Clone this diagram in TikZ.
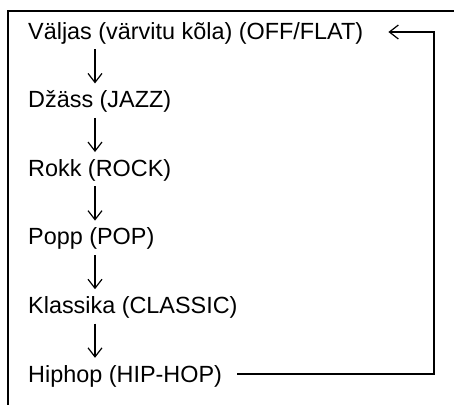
\documentclass[tikz,border=0pt]{standalone}
\usepackage{fontspec}
\setmainfont{Liberation Sans}
\usetikzlibrary{arrows.meta}
\tikzset{
  genre/.style={anchor=base west, inner sep=0pt, text height=16pt, text depth=5pt, font=\fontsize{23.4}{27}\selectfont},
  nextarrow/.style={-{Straight Barb[length=9pt,width=14pt]}, line width=1.2pt, shorten <=5pt, shorten >=8pt},
  frameline/.style={line width=2pt}
}
\begin{document}
\begin{tikzpicture}[x=1pt, y=-1pt]
            \useasboundingbox (0,0) rectangle (454,405);
            % Frame
            \draw[frameline] (454,11) -- (8,11) -- (8,405);
            % Genres
            \node[genre] (off) at (28,39) {Väljas (värvitu kõla) (OFF/FLAT)};
            \node[genre] (jazz) at (28,107.6) {Džäss (JAZZ)};
            \node[genre] (rock) at (28,176.2) {Rokk (ROCK)};
            \node[genre] (pop) at (28,244.8) {Popp (POP)};
            \node[genre] (classic) at (28,313.4) {Klassika (CLASSIC)};
            \node[genre] (hiphop) at (28,382) {Hiphop (HIP-HOP)};
            % Arrows down
            \foreach \a/\b in {off/jazz, jazz/rock, rock/pop, pop/classic, classic/hiphop}
              \draw[nextarrow] ([xshift=67pt]\a.south west) -- ([xshift=67pt]\b.north west);
            % Back to the start
            \coordinate (turn) at (434,32);
            \draw[nextarrow, shorten <=0pt, shorten >=0pt] ([xshift=15pt,yshift=8pt]hiphop.base east) -| (turn) -- ([xshift=25pt,yshift=7pt]off.base east);
        \end{tikzpicture}
\end{document}
